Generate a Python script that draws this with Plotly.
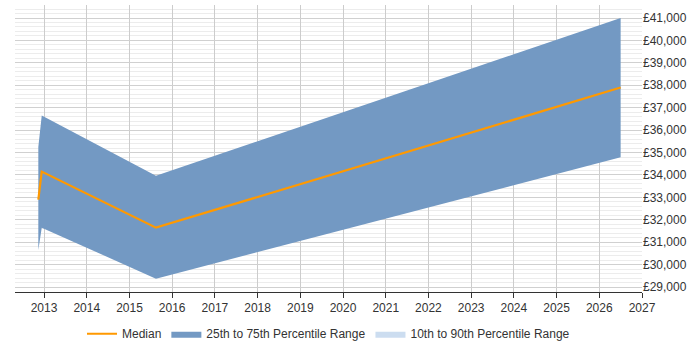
import plotly.graph_objects as go

dates = [2012.866, 2012.946, 2015.62, 2026.5]
p25 = [30650, 31650, 29375, 34790]
p75 = [35250, 36650, 33960, 41000]
median = [32900, 34150, 31650, 37900]

year_ticks = list(range(2013, 2028))
y_ticks = list(range(29000, 42000, 1000))
y_labels = [f"£{v:,}" for v in y_ticks]

band_color = "rgb(115,153,195)"
light_color = "rgb(204,221,240)"
orange = "rgb(255,153,0)"

fig = go.Figure()
fig.add_trace(go.Scatter(x=dates + dates[::-1], y=p75 + p25[::-1], fill="toself",
                         mode="lines", line=dict(width=0, color=band_color),
                         fillcolor=band_color, name="25th to 75th Percentile Range",
                         legendrank=2))
fig.add_trace(go.Scatter(x=[None], y=[None], fill="toself", mode="lines",
                         line=dict(width=0, color=light_color), fillcolor=light_color,
                         name="10th to 90th Percentile Range", legendrank=3))
fig.add_trace(go.Scatter(x=dates, y=median, mode="lines", name="Median",
                         line=dict(color=orange, width=2.2), legendrank=1))

fig.update_layout(
    width=700, height=350,
    margin=dict(l=15, r=58, t=5, b=58, autoexpand=False),
    paper_bgcolor="white", plot_bgcolor="white",
    font=dict(family="Liberation Sans, Arial, sans-serif", size=11, color="#333"),
    showlegend=True,
    legend=dict(orientation="h", x=0.5, xanchor="center", y=-0.095, yanchor="top",
                traceorder="normal", font=dict(size=12, color="#333"), itemwidth=30),
    xaxis=dict(range=[2012.32, 2027.0], tickvals=year_ticks,
               ticktext=[str(y) for y in year_ticks],
               showgrid=True, gridcolor="#cccccc", gridwidth=1,
               showline=True, linecolor="#333", linewidth=1,
               ticks="outside", ticklen=5, tickcolor="#333",
               zeroline=False, tickfont=dict(size=12)),
    yaxis=dict(range=[28780, 41580], side="right", tickvals=y_ticks, ticktext=y_labels,
               showgrid=True, gridcolor="#d0d0d0", gridwidth=1,
               minor=dict(dtick=200, showgrid=True, gridcolor="#ececec", gridwidth=1),
               zeroline=False, showline=False, ticks="", tickfont=dict(size=12)),
)

fig.write_html("out.html")
